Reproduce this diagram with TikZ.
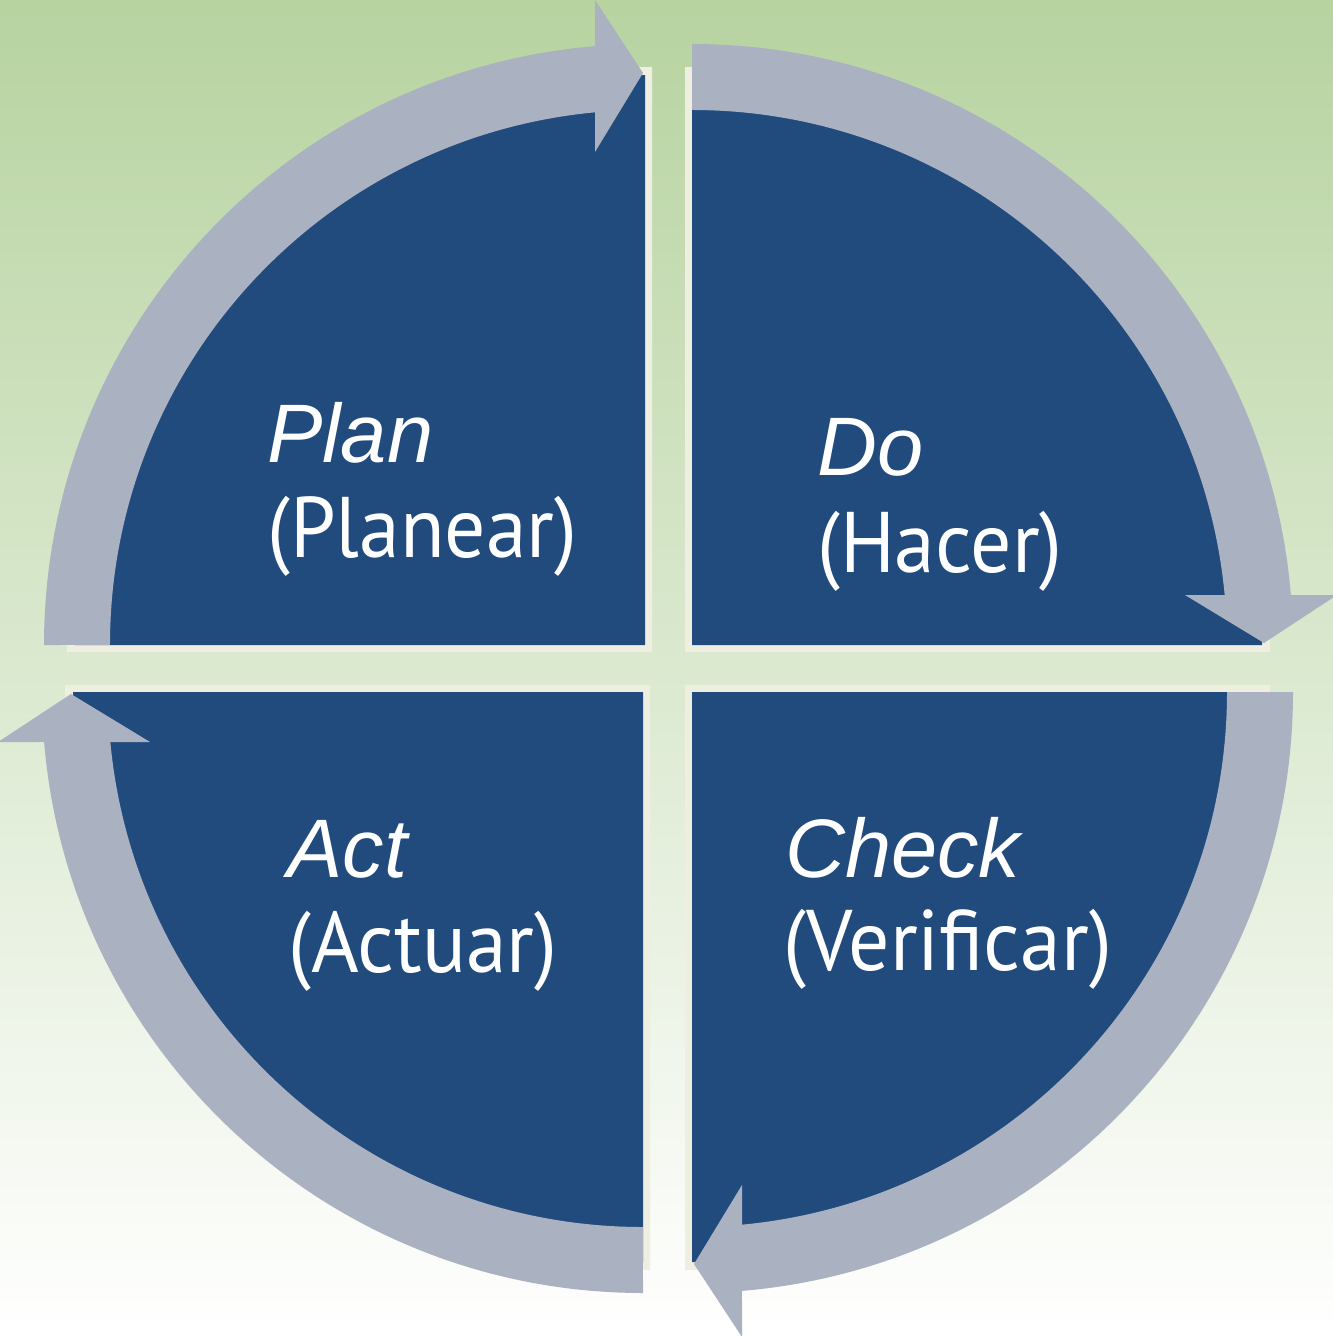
\documentclass[tikz,border=0pt]{standalone}
\usepackage{fontspec}
\usepackage{graphicx}
\newfontfamily\labsans{Liberation Sans}
\newfontfamily\labup{PT Sans}
\definecolor{pdcablue}{RGB}{33,74,125}
\definecolor{pdcagray}{RGB}{170,177,193}
\definecolor{pdcacream}{RGB}{238,239,224}
\definecolor{bgtop}{RGB}{183,211,160}
\begin{document}
\begin{tikzpicture}[x=1pt,y=-1pt,
  quadpic/.pic={
    \fill[pdcacream] (7,7) -- (-578,7) arc[start angle=180,end angle=270,radius=585] -- cycle;
    \fill[pdcablue] (0,0) -- (-570,0) arc[start angle=180,end angle=270,radius=570] -- cycle;
    \fill[pdcagray] (-601,0) arc[start angle=180,end angle=265.228,radius=601]
      -- (-50,-645) -- (-2,-572) -- (-50,-493) -- (-50,-532.66)
      arc[start angle=264.637,end angle=180,radius=535] -- cycle;
  },
  italbl/.style={text=white, inner sep=0pt, anchor=base west, font=\labsans\itshape\fontsize{83}{83}\selectfont},
  uplbl/.style={text=white, inner sep=0pt, anchor=base west, font=\labup\fontsize{86}{86}\selectfont}
]
\useasboundingbox (0,0) rectangle (1333,1336);
\shade[top color=bgtop, bottom color=white] (0,0) rectangle (1333,1336);
\pic at (645,645) {quadpic};
\pic[rotate=-90] at (692,645) {quadpic};
\pic[rotate=-180] at (692,692) {quadpic};
\pic[rotate=-270] at (643,692) {quadpic};
\node[italbl] (plan) at (267,462) {Plan};
\node[uplbl] (planear) at (267,557) {\scalebox{0.95}[1]{(Planear)}};
\node[italbl] (do) at (817,475) {Do};
\node[uplbl] (hacer) at (817,572) {\scalebox{0.95}[1]{(Hacer)}};
\node[italbl] (act) at (287,877) {Act};
\node[uplbl] (actuar) at (288,972) {\scalebox{0.95}[1]{(Actuar)}};
\node[italbl] (check) at (785,877) {Check};
\node[uplbl] (verificar) at (783,970) {\scalebox{0.95}[1]{(Verificar)}};
\end{tikzpicture}
\end{document}
